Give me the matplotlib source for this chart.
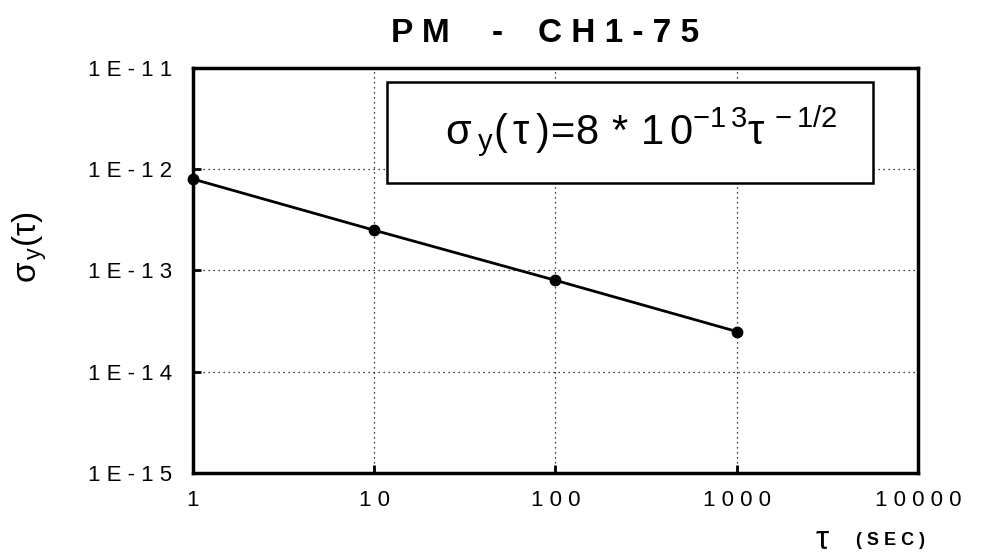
import matplotlib
matplotlib.use("Agg")
import matplotlib.pyplot as plt
from matplotlib.patches import Rectangle
from matplotlib.ticker import FixedLocator, NullLocator

plt.rcParams["font.family"] = ["Liberation Sans", "DejaVu Sans"]
plt.rcParams["mathtext.fontset"] = "custom"
plt.rcParams["mathtext.rm"] = "Liberation Sans"
plt.rcParams["mathtext.it"] = "Liberation Sans"

tau = [1, 10, 100, 1000]
sigma = [8e-13, 2.5e-13, 8e-14, 2.5e-14]

x_ticks = [1, 10, 100, 1000, 10000]
x_labels = ["1", "10", "100", "1000", "10000"]
y_ticks = [1e-15, 1e-14, 1e-13, 1e-12, 1e-11]
y_labels = ["1E-15", "1E-14", "1E-13", "1E-12", "1E-11"]


def spaced(s, sep=" "):
    return sep.join(s)


fig = plt.figure(figsize=(9.83, 5.56), dpi=100)
ax = fig.add_axes([0.196, 0.149, 0.738, 0.729])

ax.plot(tau, sigma, color="black", lw=2, marker="o", ms=7.5, clip_on=False, zorder=3)

ax.set_xscale("log")
ax.set_yscale("log")
ax.set_xlim(1, 10000)
ax.set_ylim(1e-15, 1e-11)

ax.xaxis.set_major_locator(FixedLocator(x_ticks))
ax.xaxis.set_minor_locator(NullLocator())
ax.yaxis.set_major_locator(FixedLocator(y_ticks))
ax.yaxis.set_minor_locator(NullLocator())
ax.set_xticklabels([spaced(s) for s in x_labels])
ax.set_yticklabels([spaced(s) for s in y_labels])

ax.tick_params(direction="in", length=6, width=2, labelsize=16)
ax.tick_params(axis="x", pad=12)
ax.tick_params(axis="y", pad=15)
for sp in ax.spines.values():
    sp.set_linewidth(2.5)

ax.grid(True, which="major", color="black", ls=(0, (1, 3)), lw=0.9)

# equation box
ax.add_patch(Rectangle((0.268, 0.716), 0.67, 0.249, transform=ax.transAxes,
                       facecolor="white", edgecolor="black", lw=1.8, zorder=4))
ax.text(0.618, 0.842,
        r"$\sigma_{\;y}(\,\tau\,)\!=\!8\,*\,1\,0^{-1\,3}\tau^{\,-1/2}$",
        transform=ax.transAxes, ha="center", va="center", fontsize=30, zorder=5)

# title in three spaced pieces
title_kw = dict(ha="center", va="center", fontsize=24, fontweight="black")
fig.text(0.428, 0.94, spaced("PM"), **title_kw)
fig.text(0.5055, 0.94, "-", **title_kw)
fig.text(0.629, 0.94, spaced("CH1-75"), **title_kw)

fig.text(0.03, 0.555, r"$\sigma_{\,y}(\tau)$", rotation=90, ha="center",
         va="center", fontsize=24)
fig.text(0.837, 0.028, r"$\tau$", ha="center", va="center", fontsize=24)
fig.text(0.906, 0.028, spaced("(SEC)"), ha="center", va="center",
         fontsize=13, fontweight="bold")

fig.savefig("out.png", dpi=100, facecolor="white")
